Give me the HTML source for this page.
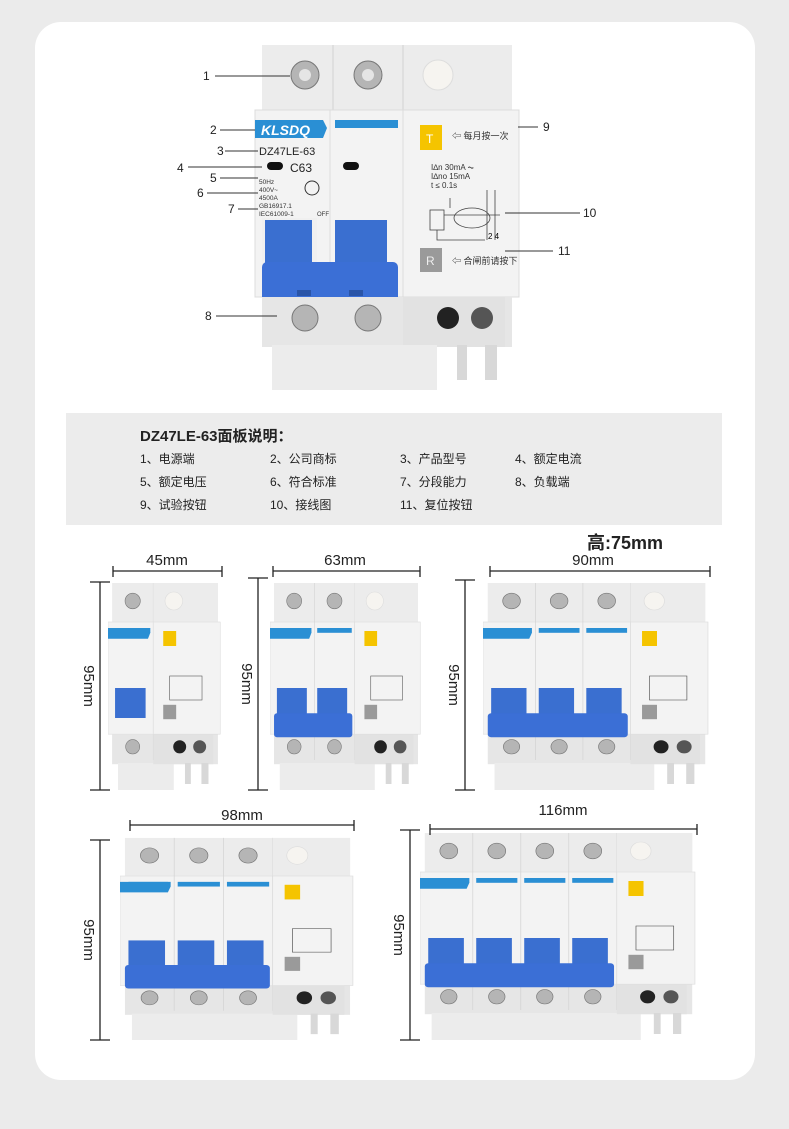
<!DOCTYPE html>
<html><head><meta charset="utf-8"><style>
html,body{margin:0;padding:0;background:#ebebeb;}
svg{display:block}
text{font-family:"Liberation Sans","Noto Sans CJK SC",sans-serif;}
</style></head><body>
<svg width="789" height="1129" viewBox="0 0 789 1129" xmlns="http://www.w3.org/2000/svg">
<rect x="0" y="0" width="789" height="1129" fill="#ebebeb"/>
<rect x="35" y="22" width="720" height="1058" rx="26" fill="#ffffff"/>

<!-- MAIN BREAKER n=2 at 255,40 -->
<g transform="translate(255,40)">
 <rect x="7" y="5" width="250" height="70" fill="#ececec"/>
 <line x1="78" y1="5" x2="78" y2="75" stroke="#d2d2d2"/>
 <line x1="148" y1="5" x2="148" y2="75" stroke="#d2d2d2"/>
 <circle cx="50" cy="35" r="14" fill="#b5b5b5" stroke="#777"/><circle cx="50" cy="35" r="6" fill="#e5e5e5"/>
 <circle cx="113" cy="35" r="14" fill="#b5b5b5" stroke="#777"/><circle cx="113" cy="35" r="6" fill="#e5e5e5"/>
 <circle cx="183" cy="35" r="15" fill="#f6f4f0" stroke="#ddd"/>
 <rect x="0" y="70" width="264" height="187" fill="#f3f3f3" stroke="#dcdcdc"/>
 <line x1="75" y1="70" x2="75" y2="257" stroke="#ddd"/>
 <line x1="148" y1="70" x2="148" y2="257" stroke="#ddd"/>
 <path d="M0 80 H68 L72 88 L68 98 H0 Z" fill="#2a8fd4"/>
 <text x="6" y="95" font-family="Liberation Serif,serif" font-style="italic" font-weight="bold" font-size="14" fill="#fff">KLSDQ</text>
 <rect x="80" y="80" width="63" height="8" fill="#2a8fd4"/>
 <text x="4" y="115" font-size="11" fill="#222">DZ47LE-63</text>
 <rect x="12" y="122" width="16" height="8" rx="4" fill="#111"/>
 <text x="35" y="132" font-size="12" fill="#222">C63</text>
 <rect x="88" y="122" width="16" height="8" rx="4" fill="#111"/>
 <text x="4" y="144" font-size="6.5" fill="#333">50Hz</text>
 <text x="4" y="152" font-size="6.5" fill="#333">400V~</text>
 <text x="4" y="160" font-size="6.5" fill="#333">4500A</text>
 <text x="4" y="168" font-size="6.5" fill="#333">GB16917.1</text>
 <text x="4" y="176" font-size="6.5" fill="#333">IEC61009-1</text>
 <circle cx="57" cy="148" r="7" fill="none" stroke="#333"/>
 <text x="62" y="176" font-size="6" fill="#333">OFF</text>
 <rect x="7" y="178" width="55" height="50" fill="#f0f0f0"/>
 <rect x="10" y="180" width="47" height="50" fill="#3a6fd0"/>
 <rect x="80" y="180" width="52" height="50" fill="#3a6fd0"/>
 <rect x="7" y="222" width="136" height="40" rx="5" fill="#3b6fd6"/>
 <rect x="42" y="250" width="14" height="6" fill="#2a55a8"/><rect x="94" y="250" width="14" height="6" fill="#2a55a8"/>
 <rect x="165" y="85" width="22" height="25" fill="#f5c400"/>
 <text x="171" y="103" font-size="12" fill="#fff">T</text>
 <text x="197" y="99" font-size="9" fill="#333">⇦ 每月按一次</text>
 <text x="176" y="130" font-size="8" fill="#333">I∆n  30mA ⏦</text>
 <text x="176" y="139" font-size="8" fill="#333">I∆no 15mA</text>
 <text x="176" y="148" font-size="8" fill="#333">t ≤  0.1s</text>
 <g fill="none" stroke="#444" stroke-width="0.8">
  <rect x="175" y="170" width="14" height="20"/><path d="M189 175 H245 M195 158 V168 M240 150 V200 M232 150 V200"/>
  <ellipse cx="217" cy="178" rx="18" ry="10"/><path d="M182 190 V200 H230"/>
 </g>
 <text x="233" y="199" font-size="8">2  4</text>
 <rect x="165" y="208" width="22" height="24" fill="#9a9a9a"/>
 <text x="171" y="225" font-size="12" fill="#eee">R</text>
 <text x="197" y="224" font-size="9" fill="#333">⇦ 合闸前请按下</text>
 <rect x="7" y="257" width="250" height="50" fill="#e6e6e6"/>
 <rect x="148" y="257" width="102" height="50" fill="#e2e2e2"/>
 <circle cx="50" cy="278" r="13" fill="#b5b5b5" stroke="#777"/>
 <circle cx="113" cy="278" r="13" fill="#b5b5b5" stroke="#777"/>
 <circle cx="193" cy="278" r="11" fill="#222"/>
 <circle cx="227" cy="278" r="11" fill="#555"/>
 <rect x="17" y="305" width="165" height="45" fill="#ececec"/>
 <rect x="202" y="305" width="10" height="35" fill="#d8d8d8"/><rect x="230" y="305" width="12" height="35" fill="#d8d8d8"/>
</g>

<!-- labels -->
<g font-size="12" fill="#222" stroke="#333" stroke-width="1">
 <text x="203" y="80" stroke="none">1</text><line x1="215" y1="76" x2="290" y2="76"/>
 <text x="210" y="134" stroke="none">2</text><line x1="220" y1="130" x2="255" y2="130"/>
 <text x="217" y="155" stroke="none">3</text><line x1="225" y1="151" x2="258" y2="151"/>
 <text x="177" y="172" stroke="none">4</text><line x1="188" y1="167" x2="262" y2="167"/>
 <text x="210" y="182" stroke="none">5</text><line x1="220" y1="178" x2="258" y2="178"/>
 <text x="197" y="197" stroke="none">6</text><line x1="207" y1="193" x2="258" y2="193"/>
 <text x="228" y="213" stroke="none">7</text><line x1="238" y1="209" x2="258" y2="209"/>
 <text x="205" y="320" stroke="none">8</text><line x1="216" y1="316" x2="277" y2="316"/>
 <text x="543" y="131" stroke="none">9</text><line x1="518" y1="127" x2="538" y2="127"/>
 <text x="583" y="217" stroke="none">10</text><line x1="505" y1="213" x2="580" y2="213"/>
 <text x="558" y="255" stroke="none">11</text><line x1="505" y1="251" x2="553" y2="251"/>
</g>

<!-- text panel -->
<rect x="66" y="413" width="656" height="112" fill="#ececec"/>
<g font-family="Liberation Sans,Noto Sans CJK SC,sans-serif" fill="#222">
 <text x="140" y="441" font-size="15" font-weight="bold">DZ47LE-63面板说明：</text>
 <g font-size="12">
  <text x="140" y="463">1、电源端</text><text x="270" y="463">2、公司商标</text><text x="400" y="463">3、产品型号</text><text x="515" y="463">4、额定电流</text>
  <text x="140" y="486">5、额定电压</text><text x="270" y="486">6、符合标准</text><text x="400" y="486">7、分段能力</text><text x="515" y="486">8、负载端</text>
  <text x="140" y="509">9、试验按钮</text><text x="270" y="509">10、接线图</text><text x="400" y="509">11、复位按钮</text>
 </g>
 <text x="587" y="549" font-size="18" font-weight="bold">高:75mm</text>
</g>

<defs>
 <g id="pole">
  <circle cx="35" cy="35" r="13" fill="#b5b5b5" stroke="#777"/>
  <circle cx="35" cy="278" r="12" fill="#b5b5b5" stroke="#777"/>
  <rect x="5" y="80" width="60" height="8" fill="#2a8fd4"/>
  <rect x="5" y="180" width="52" height="50" fill="#3a6fd0"/>
  <line x1="70" y1="5" x2="70" y2="300" stroke="#d2d2d2"/>
 </g>
 <g id="rcd">
  <rect x="0" y="5" width="110" height="70" fill="#ececec"/>
  <circle cx="35" cy="35" r="15" fill="#f6f4f0" stroke="#ddd"/>
  <rect x="0" y="70" width="114" height="187" fill="#f3f3f3" stroke="#dcdcdc"/>
  <rect x="17" y="85" width="22" height="25" fill="#f5c400"/>
  <rect x="17" y="208" width="22" height="24" fill="#9a9a9a"/>
  <rect x="28" y="160" width="55" height="40" fill="none" stroke="#555"/>
  <rect x="0" y="257" width="102" height="50" fill="#e2e2e2"/>
  <circle cx="45" cy="278" r="11" fill="#222"/><circle cx="79" cy="278" r="11" fill="#555"/>
  <rect x="54" y="305" width="10" height="35" fill="#d8d8d8"/><rect x="82" y="305" width="12" height="35" fill="#d8d8d8"/>
 </g>
</defs>

<!-- 45mm n=1 : internal width 194 -->
<svg x="108" y="580" width="114" height="210" viewBox="0 0 194 350" preserveAspectRatio="none">
 <rect x="7" y="5" width="180" height="70" fill="#ececec"/>
 <rect x="0" y="70" width="80" height="187" fill="#f3f3f3" stroke="#ddd"/>
 <rect x="7" y="257" width="180" height="50" fill="#e6e6e6"/>
 <rect x="17" y="305" width="95" height="45" fill="#ececec"/>
 <g transform="translate(7,0)"><use href="#pole"/></g>
 <path d="M0 80 H68 L72 88 L68 98 H0 Z" fill="#2a8fd4"/>
 <g transform="translate(77,0)"><use href="#rcd"/></g>
</svg>
<!-- 63mm n=2 -->
<svg x="270" y="580" width="152" height="210" viewBox="0 0 264 350" preserveAspectRatio="none">
 <rect x="7" y="5" width="250" height="70" fill="#ececec"/>
 <rect x="0" y="70" width="150" height="187" fill="#f3f3f3" stroke="#ddd"/>
 <rect x="7" y="257" width="250" height="50" fill="#e6e6e6"/>
 <rect x="17" y="305" width="165" height="45" fill="#ececec"/>
 <g transform="translate(7,0)"><use href="#pole"/></g><g transform="translate(77,0)"><use href="#pole"/></g>
 <path d="M0 80 H68 L72 88 L68 98 H0 Z" fill="#2a8fd4"/>
 <rect x="7" y="222" width="136" height="40" rx="5" fill="#3b6fd6"/>
 <g transform="translate(147,0)"><use href="#rcd"/></g>
</svg>
<!-- 90mm n=3 -->
<svg x="483" y="580" width="227" height="210" viewBox="0 0 334 350" preserveAspectRatio="none">
 <rect x="7" y="5" width="320" height="70" fill="#ececec"/>
 <rect x="0" y="70" width="220" height="187" fill="#f3f3f3" stroke="#ddd"/>
 <rect x="7" y="257" width="320" height="50" fill="#e6e6e6"/>
 <rect x="17" y="305" width="235" height="45" fill="#ececec"/>
 <g transform="translate(7,0)"><use href="#pole"/></g><g transform="translate(77,0)"><use href="#pole"/></g><g transform="translate(147,0)"><use href="#pole"/></g>
 <path d="M0 80 H68 L72 88 L68 98 H0 Z" fill="#2a8fd4"/>
 <rect x="7" y="222" width="206" height="40" rx="5" fill="#3b6fd6"/>
 <g transform="translate(217,0)"><use href="#rcd"/></g>
</svg>
<!-- 98mm n=3 -->
<svg x="120" y="835" width="235" height="205" viewBox="0 0 334 350" preserveAspectRatio="none">
 <rect x="7" y="5" width="320" height="70" fill="#ececec"/>
 <rect x="0" y="70" width="220" height="187" fill="#f3f3f3" stroke="#ddd"/>
 <rect x="7" y="257" width="320" height="50" fill="#e6e6e6"/>
 <rect x="17" y="305" width="235" height="45" fill="#ececec"/>
 <g transform="translate(7,0)"><use href="#pole"/></g><g transform="translate(77,0)"><use href="#pole"/></g><g transform="translate(147,0)"><use href="#pole"/></g>
 <path d="M0 80 H68 L72 88 L68 98 H0 Z" fill="#2a8fd4"/>
 <rect x="7" y="222" width="206" height="40" rx="5" fill="#3b6fd6"/>
 <g transform="translate(217,0)"><use href="#rcd"/></g>
</svg>
<!-- 116mm n=4 -->
<svg x="420" y="830" width="277" height="210" viewBox="0 0 404 350" preserveAspectRatio="none">
 <rect x="7" y="5" width="390" height="70" fill="#ececec"/>
 <rect x="0" y="70" width="290" height="187" fill="#f3f3f3" stroke="#ddd"/>
 <rect x="7" y="257" width="390" height="50" fill="#e6e6e6"/>
 <rect x="17" y="305" width="305" height="45" fill="#ececec"/>
 <g transform="translate(7,0)"><use href="#pole"/></g><g transform="translate(77,0)"><use href="#pole"/></g><g transform="translate(147,0)"><use href="#pole"/></g><g transform="translate(217,0)"><use href="#pole"/></g>
 <path d="M0 80 H68 L72 88 L68 98 H0 Z" fill="#2a8fd4"/>
 <rect x="7" y="222" width="276" height="40" rx="5" fill="#3b6fd6"/>
 <g transform="translate(287,0)"><use href="#rcd"/></g>
</svg>

<!-- dimension lines -->
<g stroke="#222" stroke-width="1.3" fill="none">
 <path d="M113 571 H222 M113 566 V577 M222 566 V577"/>
 <path d="M273 571 H420 M273 566 V577 M420 566 V577"/>
 <path d="M490 571 H710 M490 566 V577 M710 566 V577"/>
 <path d="M100 582 V790 M90 582 H110 M90 790 H110"/>
 <path d="M258 578 V790 M248 578 H268 M248 790 H268"/>
 <path d="M465 580 V790 M455 580 H475 M455 790 H475"/>
 <path d="M130 825 H354 M130 820 V831 M354 820 V831"/>
 <path d="M430 829 H697 M430 824 V835 M697 824 V835"/>
 <path d="M100 840 V1040 M90 840 H110 M90 1040 H110"/>
 <path d="M410 830 V1040 M400 830 H420 M400 1040 H420"/>
</g>
<g font-size="15" fill="#222" text-anchor="middle">
 <text x="167" y="565">45mm</text>
 <text x="345" y="565">63mm</text>
 <text x="593" y="565">90mm</text>
 <text x="242" y="820">98mm</text>
 <text x="563" y="815">116mm</text>
 <text transform="translate(84,686) rotate(90)">95mm</text>
 <text transform="translate(242,684) rotate(90)">95mm</text>
 <text transform="translate(449,685) rotate(90)">95mm</text>
 <text transform="translate(84,940) rotate(90)">95mm</text>
 <text transform="translate(394,935) rotate(90)">95mm</text>
</g>
</svg>
</body></html>
